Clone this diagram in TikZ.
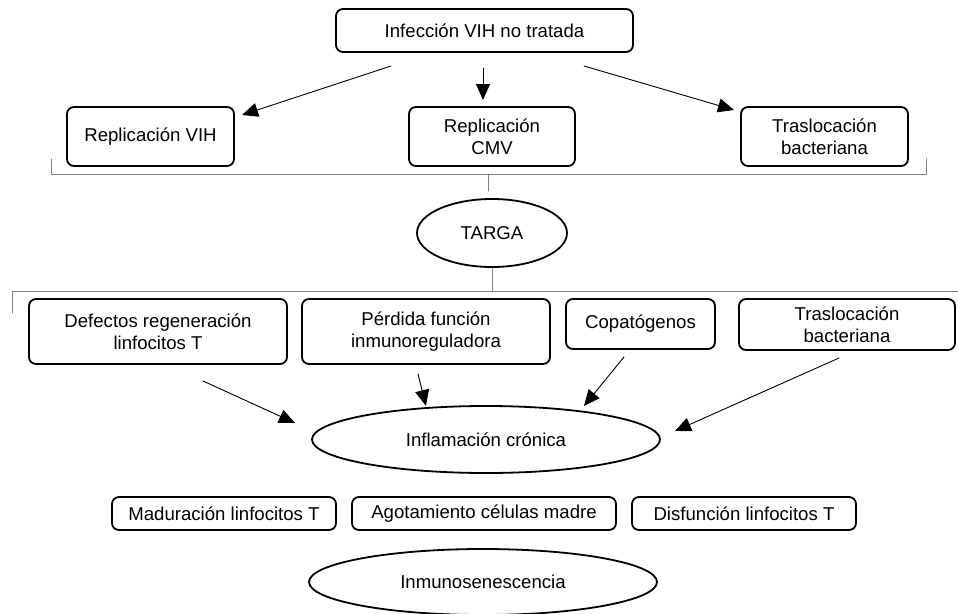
\documentclass[tikz,border=0pt]{standalone}
\usepackage{fontspec}
\setmainfont{Liberation Sans}
\usetikzlibrary{shapes.geometric,arrows.meta}
\begin{document}
\begin{tikzpicture}[x=1pt, y=-1pt, font=\fontsize{18.6}{22}\selectfont, line join=round, line cap=round, >={Triangle[length=16pt,width=14pt]},
	caja/.style={draw, rounded corners=7pt, line width=1.8pt, align=center, inner sep=0pt},
	elipse/.style={draw, ellipse, line width=1.8pt, inner sep=0pt},
	flecha/.style={->, line width=0.9pt},
	llave/.style={draw=gray, line width=1pt}]
	\useasboundingbox (0,0) rectangle (958,613);
	% Cajas
	\node[caja, minimum width=297pt, minimum height=43pt] (vih) at (484.5,30.5) {Infección VIH no tratada};
	\node[caja, minimum width=167pt, minimum height=59pt] (repvih) at (150.5,136.5) {Replicación VIH};
	\node[caja, minimum width=166pt, minimum height=59pt] (repcmv) at (492,136.5) {Replicación\\CMV};
	\node[caja, minimum width=167pt, minimum height=59pt] (trasA) at (824.5,136.5) {Traslocación\\bacteriana};
	\node[elipse, minimum width=150pt, minimum height=68pt] (targa) at (492,233) {TARGA};
	\node[caja, minimum width=258pt, minimum height=65pt] (defectos) at (158,331.5) {Defectos regeneración\\linfocitos T};
	\node[caja, minimum width=248pt, minimum height=65pt] (perdida) at (426,331.5) {Pérdida función\\inmunoreguladora};
	\node[caja, minimum width=149pt, minimum height=50pt] (copat) at (640.5,324) {Copatógenos};
	\node[caja, minimum width=216pt, minimum height=51pt] (trasB) at (847,324.5) {Traslocación\\bacteriana};
	\node[elipse, minimum width=348pt, minimum height=67pt] (inflam) at (486,439.5) {Inflamación crónica};
	\node[caja, minimum width=224pt, minimum height=33pt] (madur) at (224,513.5) {Maduración linfocitos T};
	\node[caja, minimum width=264pt, minimum height=33pt] (agot) at (484,513.5) {Agotamiento células madre};
	\node[caja, minimum width=224pt, minimum height=33pt] (disf) at (744,513.5) {Disfunción linfocitos T};
	\node[elipse, minimum width=348pt, minimum height=66pt] (inmuno) at (483,582) {Inmunosenescencia};
	% Flechas
	\coordinate (a1) at (391,66);  \coordinate (b1) at (242,115);
	\coordinate (a2) at (483,68);  \coordinate (b2) at (483,100);
	\coordinate (a3) at (584,66);  \coordinate (b3) at (734,110);
	\coordinate (a4) at (203,381); \coordinate (b4) at (295,423);
	\coordinate (a5) at (418,374); \coordinate (b5) at (426,406);
	\coordinate (a6) at (624,357); \coordinate (b6) at (584,406);
	\coordinate (a7) at (839,358); \coordinate (b7) at (675,431);
	\draw[flecha] (a1)--(b1);
	\draw[flecha] (a2)--(b2);
	\draw[flecha] (a3)--(b3);
	\draw[flecha] (a4)--(b4);
	\draw[flecha] (a5)--(b5);
	\draw[flecha] (a6)--(b6);
	\draw[flecha] (a7)--(b7);
	% Llaves
	\coordinate (l1) at (51,174); \coordinate (r1) at (926,174); \coordinate (m1) at (488,191);
	\draw[llave] (l1) ++(0,-15) -- (l1) -- (r1) -- ++(0,-15);
	\draw[llave] (m1) -- (m1 |- l1);
	\coordinate (l2) at (12,291); \coordinate (r2) at (958,291);
	\draw[llave] (l2) ++(0,22) -- (l2) -- (r2);
	\draw[llave] (targa.south) -- (targa.south |- l2);
\end{tikzpicture}
\end{document}
